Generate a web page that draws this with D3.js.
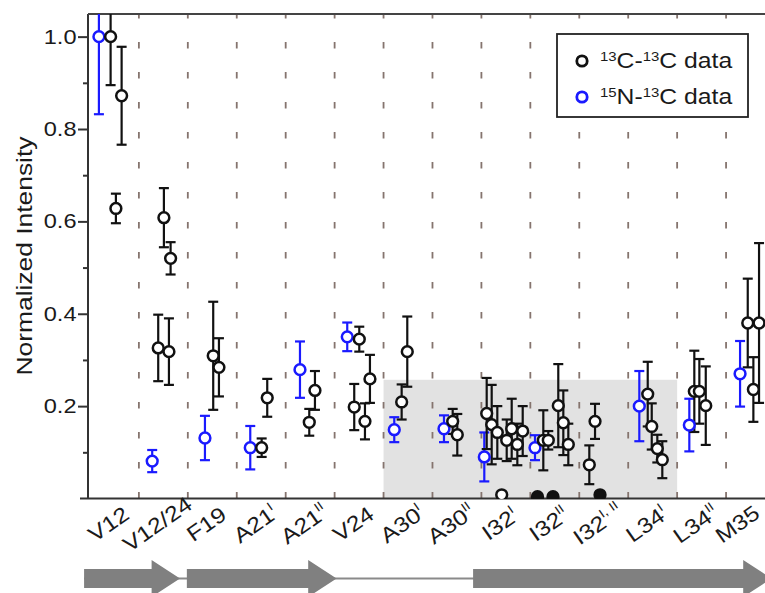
<!DOCTYPE html>
<html><head><meta charset="utf-8">
<script src="https://cdn.jsdelivr.net/npm/d3@7"></script>
<style>body{margin:0;background:#fff}svg{display:block;font-family:"Liberation Sans",Arial,sans-serif}</style>
</head><body><svg id="c" width="765" height="593"></svg>
<script>
// ---- data ----
const catBase = ["V12","V12/24","F19","A21","A21","V24","A30","A30","I32","I32","I32","L34","L34","M35"];
const catSup  = ["","","","I","II","","I","II","I","II","I, II","I","II",""];
const yMajor = [0.2,0.4,0.6,0.8,1.0];
const yMinor = [0.1,0.3,0.5,0.7,0.9];
// 13C-13C data: x position (residue axis units), value, error
const ccX = [0.922,1.030,1.147, 2.011,2.148,1.895,2.114, 3.019,3.136, 4.009,4.123, 4.982,5.098,
  6.004,5.901,6.120,6.222, 6.870,6.985, 7.913,8.007,
  8.608,8.710,8.825,9.017,9.119,9.234,9.344, 9.765,9.867,10.071,10.174,10.276,
  10.705,10.822, 11.899,11.981,12.095,12.197, 12.851,12.954,13.085, 13.943,14.058,14.174];
const ccY = [1.0,0.628,0.872, 0.608,0.520,0.326,0.318, 0.309,0.284, 0.110,0.218, 0.165,0.234,
  0.345,0.198,0.167,0.259, 0.209,0.318, 0.167,0.138,
  0.184,0.160,0.143,0.126,0.151,0.117,0.146, 0.126,0.126,0.201,0.164,0.117,
  0.073,0.167, 0.226,0.156,0.108,0.084, 0.232,0.232,0.201, 0.380,0.236,0.380];
const ccErr = [0.105,0.032,0.106, 0.064,0.035,0.072,0.072, 0.117,0.063, 0.020,0.041, 0.029,0.042,
  0.027,0.050,0.039,0.052, 0.038,0.076, 0.027,0.045,
  0.077,0.086,0.057,0.045,0.065,0.045,0.054, 0.065,0.020,0.090,0.070,0.045,
  0.042,0.038, 0.070,0.050,0.030,0.040, 0.088,0.070,0.085, 0.096,0.070,0.173];
// 15N-13C data
const ncX = [0.683,1.772,2.850,3.776,4.792,5.758,6.719,7.735,8.559,9.595,11.727,12.749,13.786];
const ncY = [1.0,0.081,0.131,0.110,0.279,0.350,0.149,0.151,0.090,0.110,0.200,0.159,0.270];
const ncErr = [0.168,0.024,0.048,0.047,0.061,0.031,0.027,0.029,0.053,0.027,0.076,0.057,0.071];
// near-zero peaks
const zeroOpenX = [8.915], zeroOpenY = [0.008];
const zeroFillX = [9.646,9.963,10.924], zeroFillY = [0.004,0.004,0.008];
// shaded region (residue units / intensity)
const shadeX = [6.5,12.5], shadeTop = 0.257;
// secondary structure strands: start, head start, tip
const strandStart = [0.38,2.48,8.33], strandHead = [1.76,4.96,13.85], strandTip = [2.34,5.54,14.43];
const legendLabels = [["13","C-","13","C data"],["15","N-","13","C data"]];

// ---- layout ----
const svg = d3.select("#c");
const W = 765;
const x = d3.scaleLinear().domain([0.46,14.5]).range([88,775]);
const y = d3.scaleLinear().domain([0,1.049]).range([498.5,14]);
const blue = "#1a1aff";
const FS = 1.15;

svg.append("defs").append("clipPath").attr("id","clip")
  .append("rect").attr("x",88).attr("y",14).attr("width",700).attr("height",485);

// shading
svg.append("rect").attr("x",x(shadeX[0])).attr("width",x(shadeX[1])-x(shadeX[0]))
  .attr("y",y(shadeTop)).attr("height",y(0)-y(shadeTop)).attr("fill","#e2e2e2");

// separators
const seps = d3.range(1.5,14,1);
svg.append("g").selectAll("line").data(seps).join("line")
  .attr("x1",d=>x(d)).attr("x2",d=>x(d)).attr("y1",y(0)).attr("y2",14)
  .attr("stroke","#85746e").attr("stroke-width",1.8).attr("stroke-dasharray","6.5,23.5");

// axes frame
svg.append("line").attr("x1",80).attr("x2",775).attr("y1",y(0)).attr("y2",y(0)).attr("stroke","#333").attr("stroke-width",2);
svg.append("line").attr("x1",88).attr("x2",88).attr("y1",y(0)).attr("y2",14).attr("stroke","#333").attr("stroke-width",2);
svg.append("line").attr("x1",88).attr("x2",775).attr("y1",14).attr("y2",14).attr("stroke","#444").attr("stroke-width",2);

const ax = svg.append("g").attr("transform","translate(88,0)")
  .call(d3.axisLeft(y).tickValues(yMajor).tickSize(10).tickPadding(0).tickFormat(d3.format(".1f")));
ax.select(".domain").remove();
ax.selectAll("line").attr("stroke","#333").attr("stroke-width",2);
ax.selectAll("text").attr("font-size",20.5).attr("fill","#1a1a1a").attr("font-family","Liberation Sans, Arial")
  .attr("transform",`scale(${FS},1)`);
const axm = svg.append("g").attr("transform","translate(88,0)")
  .call(d3.axisLeft(y).tickValues(yMinor).tickSize(5).tickFormat(""));
axm.select(".domain").remove();
axm.selectAll("line").attr("stroke","#333").attr("stroke-width",2);

// y title
svg.append("text").attr("transform","translate(24,256) rotate(-90) scale(1.2,1)")
  .attr("text-anchor","middle").attr("dy","0.35em").attr("font-size",22).attr("fill","#1a1a1a")
  .text("Normalized Intensity");

// x labels
const xl = svg.append("g");
catBase.forEach((b,i)=>{
  let cx = x(i+1)-6;
  const t = xl.append("text")
    .attr("text-anchor","middle").attr("dy","0.35em").attr("font-size",21.5).attr("fill","#1a1a1a");
  t.append("tspan").text(b);
  if (catSup[i]) t.append("tspan").attr("font-size",12.5).attr("dy","-0.75em").text(catSup[i]);
  t.attr("transform",`translate(${cx},524) rotate(-35) scale(${FS},1)`);
  const bb = t.node().getBoundingClientRect();
  if (bb.right > W - 1) {
    cx -= (bb.right - (W - 1));
    t.attr("transform",`translate(${cx},524) rotate(-35) scale(${FS},1)`);
  }
});

// data
const plot = svg.append("g").attr("clip-path","url(#clip)");
function bars(xs,ys,es,col){
  const g = plot.append("g").attr("stroke",col).attr("stroke-width",2.2).attr("fill","none");
  xs.forEach((xv,i)=>{
    const cx = x(xv), t = y(ys[i]+es[i]), b = y(ys[i]-es[i]);
    g.append("line").attr("x1",cx).attr("x2",cx).attr("y1",t).attr("y2",b);
    g.append("line").attr("x1",cx-5).attr("x2",cx+5).attr("y1",t).attr("y2",t);
    g.append("line").attr("x1",cx-5).attr("x2",cx+5).attr("y1",b).attr("y2",b);
  });
}
function pts(xs,ys,col,fill){
  plot.append("g").selectAll("circle").data(xs).join("circle")
    .attr("cx",d=>x(d)).attr("cy",(d,i)=>y(ys[i])).attr("r",5.4)
    .attr("fill",fill).attr("stroke",col).attr("stroke-width",2.5);
}
bars(ncX,ncY,ncErr,blue);
bars(ccX,ccY,ccErr,"#111");
pts(ncX,ncY,blue,"#fff");
pts(ccX,ccY,"#111","#fff");
pts(zeroOpenX,zeroOpenY,"#111","#fff");
pts(zeroFillX,zeroFillY,"#111","#111");

// legend
const lg = svg.append("g");
lg.append("rect").attr("x",557).attr("y",34).attr("width",191).attr("height",83)
  .attr("fill","#fff").attr("stroke","#222").attr("stroke-width",1.8);
[["#111",61],[blue,97]].forEach(([c,cy],i)=>{
  lg.append("circle").attr("cx",582).attr("cy",cy).attr("r",5.2).attr("fill","#fff").attr("stroke",c).attr("stroke-width",2.8);
  const t = lg.append("text").attr("transform",`translate(600,${cy+7}) scale(${FS},1)`)
    .attr("font-size",21.5).attr("fill","#1a1a1a");
  const L = legendLabels[i];
  t.append("tspan").attr("font-size",13).attr("dy",-7).text(L[0]);
  t.append("tspan").attr("dy",7).text(L[1]);
  t.append("tspan").attr("font-size",13).attr("dy",-7).text(L[2]);
  t.append("tspan").attr("dy",7).text(L[3]);
});

// secondary structure
const sy = 578.5;
svg.append("line").attr("x1",x(strandStart[0])).attr("x2",x(strandTip[2])).attr("y1",sy).attr("y2",sy)
  .attr("stroke","#8a8a8a").attr("stroke-width",2);
strandStart.forEach((s,i)=>{
  const x0=x(s), xh=x(strandHead[i]), xt=x(strandTip[i]);
  svg.append("path").attr("fill","#808080")
    .attr("d",`M${x0},${sy-9.5}L${xh},${sy-9.5}L${xh},${sy-18.5}L${xt},${sy}L${xh},${sy+18.5}L${xh},${sy+9.5}L${x0},${sy+9.5}Z`);
});
</script></body></html>
